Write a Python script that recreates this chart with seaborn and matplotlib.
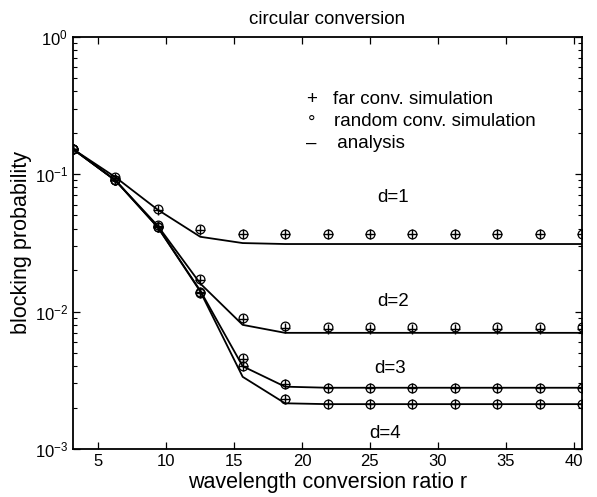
import matplotlib
matplotlib.use("Agg")
import matplotlib.pyplot as plt
import seaborn as sns
import pandas as pd
from matplotlib.ticker import LogLocator, NullFormatter, FixedLocator

# ---- data ----
r = [3.125, 6.25, 9.375, 12.5, 15.625, 18.75, 21.875, 25.0, 28.125,
     31.25, 34.375, 37.5, 40.625]

analysis_d1 = [0.152, 0.095, 0.055, 0.035, 0.0315, 0.031, 0.031, 0.031, 0.031, 0.031, 0.031, 0.031, 0.031]
analysis_d2 = [0.152, 0.090, 0.042, 0.016, 0.0080, 0.0070, 0.0070, 0.0070, 0.0070, 0.0070, 0.0070, 0.0070, 0.0070]
analysis_d3 = [0.152, 0.090, 0.041, 0.0142, 0.0040, 0.00284, 0.00279, 0.00279, 0.00279, 0.00279, 0.00279, 0.00279, 0.00279]
analysis_d4 = [0.152, 0.090, 0.041, 0.0140, 0.00335, 0.00215, 0.00212, 0.00212, 0.00212, 0.00212, 0.00212, 0.00212, 0.00212]

far_d1 = [0.152, 0.094, 0.055, 0.0395, 0.0366, 0.0366, 0.0366, 0.0366, 0.0366, 0.0366, 0.0366, 0.0366, 0.0366]
far_d2 = [0.152, 0.090, 0.042, 0.0170, 0.0088, 0.0076, 0.0075, 0.0075, 0.0075, 0.0075, 0.0075, 0.0075, 0.0075]
far_d3 = [0.152, 0.090, 0.041, 0.0138, 0.0045, 0.00295, 0.00280, 0.00280, 0.00280, 0.00280, 0.00280, 0.00280, 0.00280]
far_d4 = [0.152, 0.090, 0.041, 0.0136, 0.0040, 0.00230, 0.00212, 0.00212, 0.00212, 0.00212, 0.00212, 0.00212, 0.00212]

rand_d1 = [0.152, 0.095, 0.0555, 0.0397, 0.0366, 0.0366, 0.0366, 0.0366, 0.0366, 0.0366, 0.0366, 0.0366, 0.0366]
rand_d2 = [0.152, 0.090, 0.0425, 0.0172, 0.0090, 0.0079, 0.00775, 0.00775, 0.00775, 0.00775, 0.00775, 0.00775, 0.00775]
rand_d3 = [0.152, 0.090, 0.041, 0.0138, 0.00456, 0.00295, 0.00280, 0.00280, 0.00280, 0.00280, 0.00280, 0.00280, 0.00280]
rand_d4 = [0.152, 0.090, 0.041, 0.0136, 0.00401, 0.00230, 0.00212, 0.00212, 0.00212, 0.00212, 0.00212, 0.00212, 0.00212]

d_labels = ["d=1", "d=2", "d=3", "d=4"]
d_label_pos = [(26.7, 0.068), (26.7, 0.0118), (26.5, 0.00382), (26.1, 0.00130)]

legend_items = ["far conv. simulation", "random conv. simulation", " analysis"]
x_ticks = [5, 10, 15, 20, 25, 30, 35, 40]

# ---- style ----
sns.set_style("white")
plt.rcParams['font.family'] = ['Liberation Sans', 'DejaVu Sans']
plt.rcParams['mathtext.fontset'] = 'custom'
plt.rcParams['mathtext.rm'] = 'Liberation Sans'
plt.rcParams['mathtext.it'] = 'Liberation Sans:italic'
plt.rcParams['text.color'] = 'black'
plt.rcParams['axes.labelcolor'] = 'black'
plt.rcParams['xtick.color'] = 'black'
plt.rcParams['ytick.color'] = 'black'

fig = plt.figure(figsize=(5.97, 4.97), dpi=100)
ax = fig.add_axes([0.1223, 0.0966, 0.8526, 0.8296])

analysis = [analysis_d1, analysis_d2, analysis_d3, analysis_d4]
far = [far_d1, far_d2, far_d3, far_d4]
rand = [rand_d1, rand_d2, rand_d3, rand_d4]

for a, f, q in zip(analysis, far, rand):
    df = pd.DataFrame({"r": r, "a": a, "f": f, "q": q})
    sns.lineplot(data=df, x="r", y="a", ax=ax, color="black", linewidth=1.3)
    sns.lineplot(data=df, x="r", y="q", ax=ax, color="black", linestyle="none",
                 marker="o", markersize=6.3, markerfacecolor="none",
                 markeredgecolor="black", markeredgewidth=0.9)
    sns.lineplot(data=df, x="r", y="f", ax=ax, color="black", linestyle="none",
                 marker="+", markersize=7.5, markeredgecolor="black",
                 markeredgewidth=1.0)

ax.set_yscale("log")
ax.set_xlim(3.125, 40.625)
ax.set_ylim(1e-3, 1e0)
ax.xaxis.set_major_locator(FixedLocator(x_ticks))
ax.yaxis.set_major_locator(LogLocator(base=10, numticks=10))
ax.yaxis.set_minor_locator(LogLocator(base=10, subs=range(2, 10), numticks=20))
ax.yaxis.set_minor_formatter(NullFormatter())

ax.tick_params(axis="both", which="major", direction="in", length=5, width=0.9,
               top=True, right=True, bottom=True, left=True, labelsize=12,
               colors="black")
ax.tick_params(axis="y", which="minor", direction="in", length=3, width=0.8,
               left=True, right=True, colors="black")
for s in ax.spines.values():
    s.set_visible(True)
    s.set_color("black")
    s.set_linewidth(1.3)

ax.set_xlabel("wavelength conversion ratio r", fontsize=15.5, labelpad=2)
ax.set_ylabel("blocking probability", fontsize=15.5, labelpad=2)
ax.set_title("circular conversion", fontsize=13.5, pad=9)

for lbl, (xx, yy) in zip(d_labels, d_label_pos):
    ax.text(xx, yy, lbl, fontsize=13.5, ha="center", va="center")

# text legend (as in original: symbols followed by text)
ax.text(0.468, 0.848, "+", transform=ax.transAxes, fontsize=13.5, ha="center", va="center")
ax.text(0.51, 0.848, legend_items[0], transform=ax.transAxes, fontsize=13.5, ha="left", va="center")
ax.text(0.468, 0.79, "°", transform=ax.transAxes, fontsize=13.5, ha="center", va="center")
ax.text(0.513, 0.795, legend_items[1], transform=ax.transAxes, fontsize=13.5, ha="left", va="center")
ax.text(0.468, 0.741, "–", transform=ax.transAxes, fontsize=13.5, ha="center", va="center")
ax.text(0.508, 0.741, legend_items[2], transform=ax.transAxes, fontsize=13.5, ha="left", va="center")

fig.savefig("out.png", dpi=100)
